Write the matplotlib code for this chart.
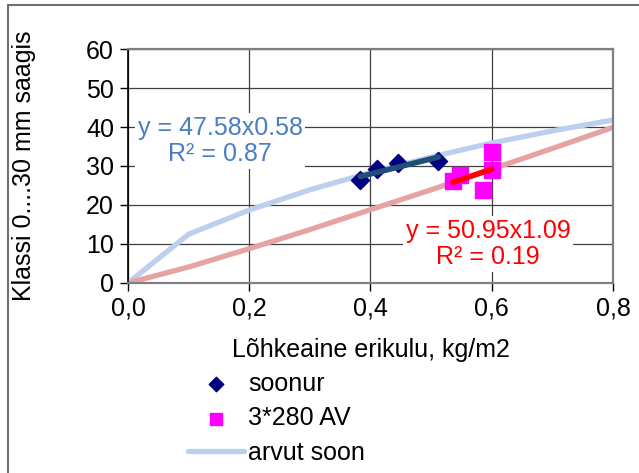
import matplotlib
matplotlib.use("Agg")
import matplotlib.pyplot as plt
from matplotlib.patches import Rectangle

plt.rcParams['font.family'] = ['Liberation Sans', 'DejaVu Sans']

# measured points
soonur_x = [0.383, 0.411, 0.446, 0.512]
soonur_y = [26.4, 29.2, 30.7, 31.4]

av_x = [0.536, 0.548, 0.586, 0.600, 0.600]
av_y = [26.2, 27.8, 23.8, 29.0, 33.5]

# trend lines (power fits shown in chart)
soonur_trend_x = [0.383, 0.512]
soonur_trend_y = [27.3, 32.3]
av_trend_x = [0.536, 0.600]
av_trend_y = [25.8, 29.2]

# calculated curves
calc_x = [0.0, 0.1, 0.2, 0.3, 0.4, 0.5, 0.6, 0.7, 0.8]
arvut_soon_y = [0.0, 12.5, 18.7, 23.9, 28.3, 32.3, 35.9, 39.0, 41.8]
arvut_av_y = [0.0, 4.1, 8.8, 13.7, 18.8, 23.9, 29.2, 34.5, 39.9]

x_ticks = [0.0, 0.2, 0.4, 0.6, 0.8]
x_ticklabels = ['0,0', '0,2', '0,4', '0,6', '0,8']
y_ticks = [0, 10, 20, 30, 40, 50, 60]

FS = 18

fig = plt.figure(figsize=(6.39, 4.73), dpi=100)
ax = fig.add_axes([0.2003, 0.4017, 0.7590, 0.4947])

ax.plot(calc_x, arvut_soon_y, color='#BCCFEE', lw=3.8, solid_capstyle='round',
        label='arvut soon', zorder=2)
ax.plot(calc_x, arvut_av_y, color='#E6A3A3', lw=3.8, solid_capstyle='round', zorder=2)

ax.scatter(soonur_x, soonur_y, marker='D', s=85, color='#000080', label='soonur', zorder=4)
ax.scatter(av_x, av_y, marker='s', s=120, color='#FF00FF', label='3*280 AV', zorder=4)

ax.plot(soonur_trend_x, soonur_trend_y, color='#1F4E79', lw=4, solid_capstyle='round', zorder=5)
ax.plot(av_trend_x, av_trend_y, color='#FF0000', lw=4, solid_capstyle='round', zorder=5)

ax.set_xlim(0, 0.8)
ax.set_ylim(0, 60)
ax.set_xticks(x_ticks)
ax.set_xticklabels(x_ticklabels)
ax.set_yticks(y_ticks)
ax.tick_params(labelsize=FS, direction='out', length=6, width=1, color='black', pad=4)
ax.grid(True, color='#404040', lw=0.9)
ax.set_axisbelow(True)

for side in ['top', 'right', 'bottom']:
    ax.spines[side].set_color('#808080')
    ax.spines[side].set_linewidth(1.6)
ax.spines['left'].set_color('black')
ax.spines['left'].set_linewidth(1.2)

ax.set_xlabel('Lõhkeaine erikulu, kg/m2', fontsize=FS)
ax.xaxis.set_label_coords(0.5, -0.235)
ax.set_ylabel('Klassi 0....30 mm saagis', fontsize=FS)
ax.yaxis.set_label_coords(-0.19, 0.5)

ax.text(0.152, 36.4, 'y = 47.58x0.58\nR² = 0.87', color='#4A7EC4', fontsize=FS,
        ha='center', va='center', multialignment='center', linespacing=1.15,
        bbox=dict(facecolor='white', edgecolor='none', pad=2), zorder=6, clip_on=False)
ax.text(0.594, 10.0, 'y = 50.95x1.09\nR² = 0.19', color='#FF0000', fontsize=FS,
        ha='center', va='center', multialignment='center', linespacing=1.15,
        bbox=dict(facecolor='white', edgecolor='none', pad=2), zorder=6)

handles, labels = ax.get_legend_handles_labels()
leg_order = ['soonur', '3*280 AV', 'arvut soon']
by_label = dict(zip(labels, handles))
fig.legend([by_label[k] for k in leg_order], leg_order,
           loc='upper left', bbox_to_anchor=(0.294, 0.214), frameon=False,
           fontsize=FS, handlelength=2.25, handletextpad=0.15, labelspacing=0.42,
           borderpad=0, borderaxespad=0, markerscale=0.8)

fig.patches.append(Rectangle((0.0125, -0.1), 1.1, 1.09, transform=fig.transFigure,
                             fill=False, edgecolor='#707070', lw=1.5))

fig.savefig('out.png', dpi=100)
